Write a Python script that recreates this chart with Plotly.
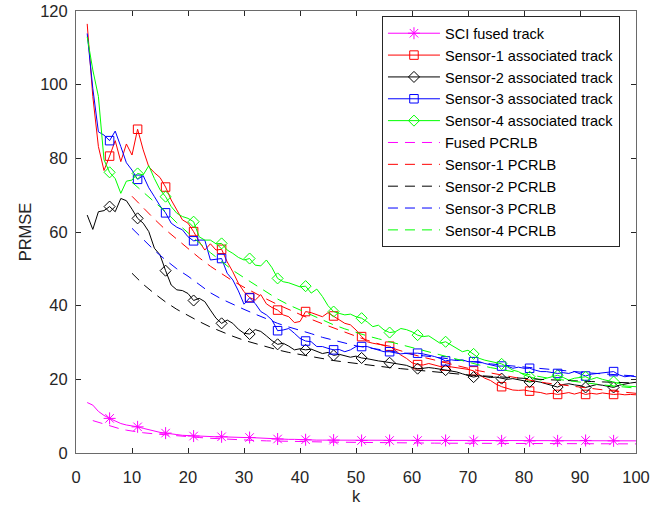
import plotly.graph_objects as go

k = list(range(2, 101))

sci_fused = [13.7, 13.0, 11.3, 10.2, 9.4, 8.6, 8.0, 7.6, 7.4, 7.1,
             6.7, 6.3, 5.9, 5.6, 5.4, 5.3, 5.0, 4.8, 4.7, 4.6,
             4.6, 4.5, 4.5, 4.4, 4.4, 4.3, 4.3, 4.2, 4.2, 4.2,
             4.1, 4.0, 3.9, 3.9, 3.8, 3.8, 3.7, 3.7, 3.6, 3.6,
             3.6, 3.5, 3.5, 3.5, 3.5, 3.5, 3.4, 3.4, 3.5, 3.4,
             3.4, 3.5, 3.4, 3.4, 3.4, 3.3, 3.4, 3.4, 3.3, 3.4,
             3.3, 3.4, 3.3, 3.3, 3.4, 3.3, 3.3, 3.4, 3.3, 3.3,
             3.3, 3.4, 3.3, 3.3, 3.3, 3.3, 3.4, 3.3, 3.3, 3.3,
             3.3, 3.3, 3.4, 3.3, 3.3, 3.3, 3.3, 3.3, 3.3, 3.4,
             3.3, 3.3, 3.3, 3.3, 3.3, 3.3, 3.3, 3.3, 3.3]

sensor1_track = [116.5, 96.8, 83.2, 76.7, 80.6, 84.8, 79.1, 83.9, 80.9, 87.9,
                 82.3, 77.7, 76.1, 74.8, 72.2, 68.7, 66.0, 63.3, 62.4, 60.1,
                 57.4, 55.1, 56.8, 55.1, 55.3, 51.9, 49.2, 46.1, 43.8, 42.2,
                 41.5, 43.0, 40.5, 39.5, 38.8, 37.5, 37.0, 35.4, 35.7, 38.4,
                 38.1, 37.5, 37.0, 38.1, 37.2, 36.1, 35.2, 34.8, 33.4, 31.6,
                 30.2, 29.8, 29.6, 29.3, 29.0, 27.9, 26.6, 25.7, 24.5, 24.0,
                 23.9, 24.3, 23.9, 23.5, 23.6, 23.4, 23.3, 23.0, 22.7, 22.3,
                 21.2, 20.3, 19.7, 18.7, 18.0, 17.6, 17.1, 17.0, 17.1, 16.8,
                 16.7, 16.4, 16.0, 16.2, 15.9, 16.2, 16.4, 16.0, 16.4, 15.9,
                 16.2, 16.0, 16.3, 16.1, 15.9, 16.0, 15.8, 15.9, 15.8]

sensor2_track = [64.6, 60.7, 65.5, 65.8, 66.9, 65.5, 69.1, 68.5, 66.2, 63.7,
                 62.4, 60.1, 55.6, 53.8, 49.5, 45.6, 44.3, 44.1, 43.3, 41.4,
                 42.0, 41.1, 38.8, 36.6, 35.2, 36.1, 35.2, 33.6, 32.5, 32.3,
                 33.5, 33.0, 31.8, 30.5, 29.5, 29.8, 29.0, 28.0, 28.3, 28.0,
                 28.2, 27.5, 27.0, 27.3, 26.5, 26.8, 26.5, 26.0, 26.3, 25.8,
                 25.6, 25.2, 25.0, 24.8, 24.5, 24.4, 24.0, 23.8, 23.2, 22.9,
                 23.0, 23.2, 23.0, 22.8, 22.5, 22.2, 22.0, 21.5, 21.0, 20.6,
                 21.0, 20.8, 20.5, 20.6, 20.2, 20.0, 20.2, 19.8, 19.6, 19.3,
                 19.5, 19.2, 18.8, 18.5, 17.9, 18.6, 18.8, 18.5, 18.3, 17.8,
                 18.3, 18.6, 18.4, 18.2, 17.8, 18.4, 18.8, 19.0, 19.2]

sensor3_track = [113.9, 99.0, 87.2, 86.3, 84.8, 87.4, 83.2, 78.8, 76.8, 74.3,
                 75.3, 72.0, 69.6, 67.1, 65.2, 62.4, 61.3, 60.6, 58.7, 57.6,
                 57.8, 57.8, 52.4, 52.6, 52.8, 48.8, 47.0, 44.0, 40.4, 42.1,
                 40.6, 38.4, 37.5, 36.1, 33.2, 33.4, 33.8, 32.5, 31.1, 30.4,
                 30.2, 28.9, 28.9, 28.4, 28.0, 28.1, 27.5, 28.0, 28.9, 28.9,
                 28.9, 28.4, 28.0, 27.5, 27.5, 27.1, 26.9, 27.1, 27.2, 27.1,
                 26.9, 26.6, 26.2, 25.7, 25.0, 25.3, 25.1, 25.3, 24.8, 24.8,
                 24.8, 24.3, 23.9, 23.6, 23.6, 23.6, 23.0, 23.3, 23.0, 23.0,
                 22.5, 22.1, 22.1, 21.8, 21.6, 21.8, 21.6, 22.1, 21.6, 20.9,
                 21.4, 21.6, 21.6, 21.8, 22.1, 21.2, 20.7, 20.9, 20.7]

sensor4_track = [113.0, 104.0, 96.8, 79.6, 76.2, 74.5, 70.5, 73.8, 74.1, 75.9,
                 75.5, 78.0, 74.5, 71.5, 69.6, 66.9, 65.1, 64.2, 63.7, 62.8,
                 58.7, 57.8, 57.8, 56.8, 56.9, 55.1, 54.2, 53.1, 52.4, 52.8,
                 51.0, 50.8, 52.4, 50.3, 47.4, 46.5, 46.2, 45.6, 45.1, 45.3,
                 43.4, 44.5, 42.5, 40.0, 38.4, 37.9, 37.5, 37.7, 37.0, 36.6,
                 35.6, 34.3, 34.7, 33.4, 32.7, 32.9, 33.8, 33.5, 32.9, 32.0,
                 31.6, 31.8, 30.7, 29.8, 30.2, 29.3, 28.4, 27.5, 27.9, 26.9,
                 25.7, 25.2, 24.8, 24.5, 24.2, 23.4, 22.5, 22.1, 21.2, 20.7,
                 20.3, 19.8, 20.3, 20.7, 21.1, 20.5, 19.8, 20.3, 20.5, 20.7,
                 20.0, 20.5, 20.0, 19.6, 19.4, 18.9, 18.2, 18.2, 18.0]

k_fused_bound = [3, 4, 5, 6, 7, 8, 9, 10, 12, 14, 16, 18, 20, 22, 24, 26, 28, 30,
                 32, 34, 36, 38, 40, 42, 44, 46, 48, 50, 52, 54, 56, 58, 60, 62,
                 64, 66, 68, 70, 72, 74, 76, 78, 80, 82, 84, 86, 88, 90, 92, 94,
                 96, 98, 100]
fused_bound = [8.8, 8.3, 7.8, 7.3, 6.9, 6.5, 6.2, 5.9, 5.5, 5.2, 4.9, 4.6, 4.4,
               4.2, 4.0, 3.8, 3.6, 3.5, 3.4, 3.3, 3.2, 3.15, 3.1, 3.05, 3.0,
               2.95, 2.9, 2.85, 2.82, 2.8, 2.78, 2.75, 2.72, 2.7, 2.68, 2.66,
               2.64, 2.62, 2.6, 2.59, 2.58, 2.57, 2.56, 2.55, 2.54, 2.53, 2.52,
               2.51, 2.5, 2.5, 2.49, 2.48, 2.47]

k_bound = list(range(10, 101, 2))
sensor1_bound = [69.7, 66.5, 63.5, 60.6, 58.0, 55.4, 53.0, 50.7, 48.6, 46.7,
                 45.0, 43.3, 41.8, 40.3, 38.9, 37.6, 36.3, 35.1, 33.9, 32.8,
                 31.7, 30.6, 29.6, 28.6, 27.7, 26.8, 26.0, 25.2, 24.4, 23.7,
                 23.0, 22.3, 21.7, 21.1, 20.5, 20.0, 19.5, 19.0, 18.6, 18.2,
                 17.8, 17.4, 17.1, 16.8, 16.5, 16.2]
sensor2_bound = [48.8, 45.8, 43.3, 41.0, 39.0, 37.3, 35.7, 34.2, 32.9, 31.7,
                 30.6, 29.7, 28.8, 28.0, 27.3, 26.7, 26.1, 25.6, 25.1, 24.7,
                 24.3, 23.9, 23.5, 23.2, 22.9, 22.6, 22.3, 22.0, 21.7, 21.5,
                 21.2, 21.0, 20.8, 20.6, 20.4, 20.2, 20.0, 19.9, 19.8, 19.6,
                 19.5, 19.4, 19.3, 19.2, 19.1, 19.0]
sensor3_bound = [61.0, 58.0, 55.0, 52.4, 50.0, 48.0, 45.8, 43.5, 41.8, 40.3,
                 39.0, 37.7, 36.4, 35.2, 34.2, 33.4, 32.4, 31.4, 30.6, 29.8,
                 29.1, 28.6, 28.1, 27.6, 27.2, 26.8, 26.4, 26.0, 25.6, 25.2,
                 24.9, 24.5, 24.2, 23.9, 23.6, 23.3, 23.0, 22.7, 22.5, 22.2,
                 22.0, 21.7, 21.5, 21.3, 21.1, 20.9]
sensor4_bound = [73.5, 70.8, 68.2, 65.5, 62.5, 59.8, 57.0, 54.4, 52.0, 49.6,
                 47.6, 45.6, 43.6, 41.8, 40.2, 38.8, 37.4, 36.0, 34.8, 33.7,
                 32.7, 31.8, 31.0, 30.2, 29.4, 28.5, 27.7, 26.9, 26.1, 25.3,
                 24.6, 23.9, 23.2, 22.6, 22.0, 21.4, 20.9, 20.4, 20.0, 19.6,
                 19.2, 18.8, 18.5, 18.2, 17.9, 17.6]

track_names = ["SCI fused track", "Sensor-1 associated track", "Sensor-2 associated track",
               "Sensor-3 associated track", "Sensor-4 associated track"]
bound_names = ["Fused PCRLB", "Sensor-1 PCRLB", "Sensor-2 PCRLB",
               "Sensor-3 PCRLB", "Sensor-4 PCRLB"]

colors = ["#FF00FF", "#FF0000", "#000000", "#0000FF", "#00FF00"]
symbols = ["asterisk-open", "square-open", "diamond-open", "square-open", "diamond-open"]
msizes = [10, 8.5, 8.5, 8.5, 8.5]

tracks = [sci_fused, sensor1_track, sensor2_track, sensor3_track, sensor4_track]
bounds = [(k_fused_bound, fused_bound), (k_bound, sensor1_bound), (k_bound, sensor2_bound),
          (k_bound, sensor3_bound), (k_bound, sensor4_bound)]

DASH = "10px,7px"
FONT = "Liberation Sans, Arial, Helvetica, sans-serif"
TXT = "#262626"

fig = go.Figure()

# data lines (no legend)
for i in range(5):
    fig.add_trace(go.Scatter(x=k, y=tracks[i], mode="lines",
                             line=dict(color=colors[i], width=1),
                             showlegend=False, hoverinfo="skip"))
    fig.add_trace(go.Scatter(x=k[4::5], y=tracks[i][4::5], mode="markers",
                             marker=dict(symbol=symbols[i], size=msizes[i],
                                         color=colors[i], line=dict(color=colors[i], width=1)),
                             showlegend=False, hoverinfo="skip"))
for i in range(5):
    bx, by = bounds[i]
    fig.add_trace(go.Scatter(x=bx, y=by, mode="lines",
                             line=dict(color=colors[i], width=1, dash=DASH),
                             showlegend=False, hoverinfo="skip"))

# legend entries
for i in range(5):
    fig.add_trace(go.Scatter(x=[None], y=[None], mode="lines+markers", name=track_names[i],
                             line=dict(color=colors[i], width=1),
                             marker=dict(symbol=symbols[i], size=msizes[i],
                                         color=colors[i], line=dict(color=colors[i], width=1))))
for i in range(5):
    fig.add_trace(go.Scatter(x=[None], y=[None], mode="lines", name=bound_names[i],
                             line=dict(color=colors[i], width=1, dash=DASH)))

axis_common = dict(
    showline=True, linecolor="#6a6a6a", linewidth=1, mirror="ticks",
    ticks="inside", ticklen=5, tickcolor=TXT, tickwidth=1,
    showgrid=False, zeroline=False, automargin=False,
    tickfont=dict(family=FONT, size=16.5, color=TXT),
)

fig.update_layout(
    template="none",
    width=665, height=506,
    margin=dict(l=76, r=29, t=11, b=53, autoexpand=False),
    paper_bgcolor="white", plot_bgcolor="white",
    font=dict(family=FONT, color=TXT),
    xaxis=dict(range=[0, 100], tickvals=list(range(0, 101, 10)),
               ticklabelstandoff=9,
               title=dict(text="k", font=dict(family=FONT, size=16.5, color=TXT), standoff=5),
               **axis_common),
    yaxis=dict(range=[0, 120], tickvals=list(range(0, 121, 20)),
               ticklabelstandoff=4,
               title=dict(text="PRMSE", font=dict(family=FONT, size=16.5, color=TXT), standoff=4),
               **axis_common),
    legend=dict(x=0.5464, y=0.988, xanchor="left", yanchor="top",
                bgcolor="white", bordercolor=TXT, borderwidth=1,
                font=dict(family=FONT, size=14.5, color="#000000"),
                itemwidth=52, tracegroupgap=0),
    showlegend=True,
)

fig.write_html("out.html")
